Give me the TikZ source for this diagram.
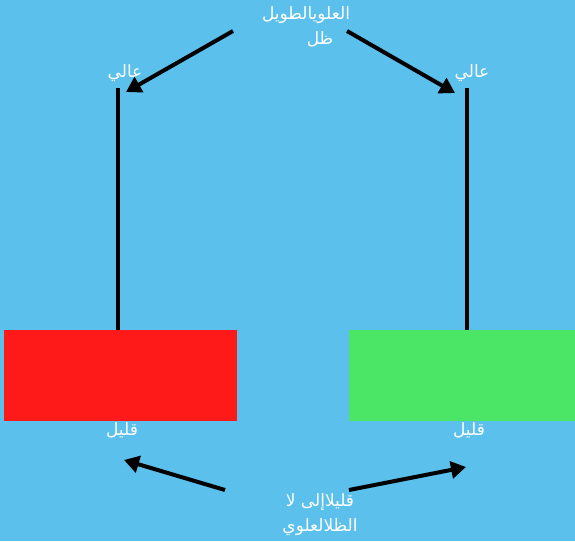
\documentclass[tikz,border=0pt]{standalone}
\usepackage{fontspec}
\newfontfamily\arabicfont[Script=Arabic]{DejaVu Sans}
\TeXXeTstate=1
\usetikzlibrary{arrows.meta}
\definecolor{sky}{HTML}{5BC0EB}
\definecolor{candlered}{HTML}{FF1A1A}
\definecolor{candlegreen}{HTML}{4CE666}

\begin{document}
\begin{tikzpicture}
          [x=1pt,y=-1pt,every node/.style={text=white,font=\arabicfont\fontsize{17}{25}\selectfont,inner sep=0pt},
           body/.style={minimum width=233pt,minimum height=91pt},
           wick/.style={line width=4pt},
           pointer/.style={line width=4pt,-{Triangle[length=15pt,width=17pt]}}]

          \fill[sky] (0,0) rectangle (575,541);

          \node[body,fill=candlered] (redbody) at (120.5,375.5) {};
          \node[body,fill=candlegreen,minimum width=226pt] (greenbody) at (462,375.5) {};

          \coordinate (redtop) at (118,88);
          \coordinate (greentop) at (467,88);
          \draw[wick] (redtop) -- (redtop |- redbody.north);
          \draw[wick] (greentop) -- (greentop |- greenbody.north);

          \node (redhigh) at (125,73) {\beginR عالي\endR};
          \node (greenhigh) at (472,73) {\beginR عالي\endR};
          \node (redlow) at (122,430) {\beginR قليل\endR};
          \node (greenlow) at (469,430) {\beginR قليل\endR};

          \node[align=center] (longwick) at (306,27) {\beginR العلويالطويل\endR\\\hspace*{28pt}\beginR ظل\endR};
          \node[align=center] (shortwick) at (320,515) {\beginR قليلاإلى لا\endR\\\beginR الظلالعلوي\endR};

          \coordinate (tl) at (233,31);
          \coordinate (tr) at (347,31);
          \coordinate (bl) at (225,490);
          \coordinate (br) at (349,490);
          \coordinate (tlend) at (126,92);
          \coordinate (trend) at (455,93);
          \coordinate (blend) at (124,460);
          \coordinate (brend) at (466,467);

          \draw[pointer] (tl) -- (tlend);
          \draw[pointer] (tr) -- (trend);
          \draw[pointer] (bl) -- (blend);
          \draw[pointer] (br) -- (brend);
        \end{tikzpicture}
\end{document}
